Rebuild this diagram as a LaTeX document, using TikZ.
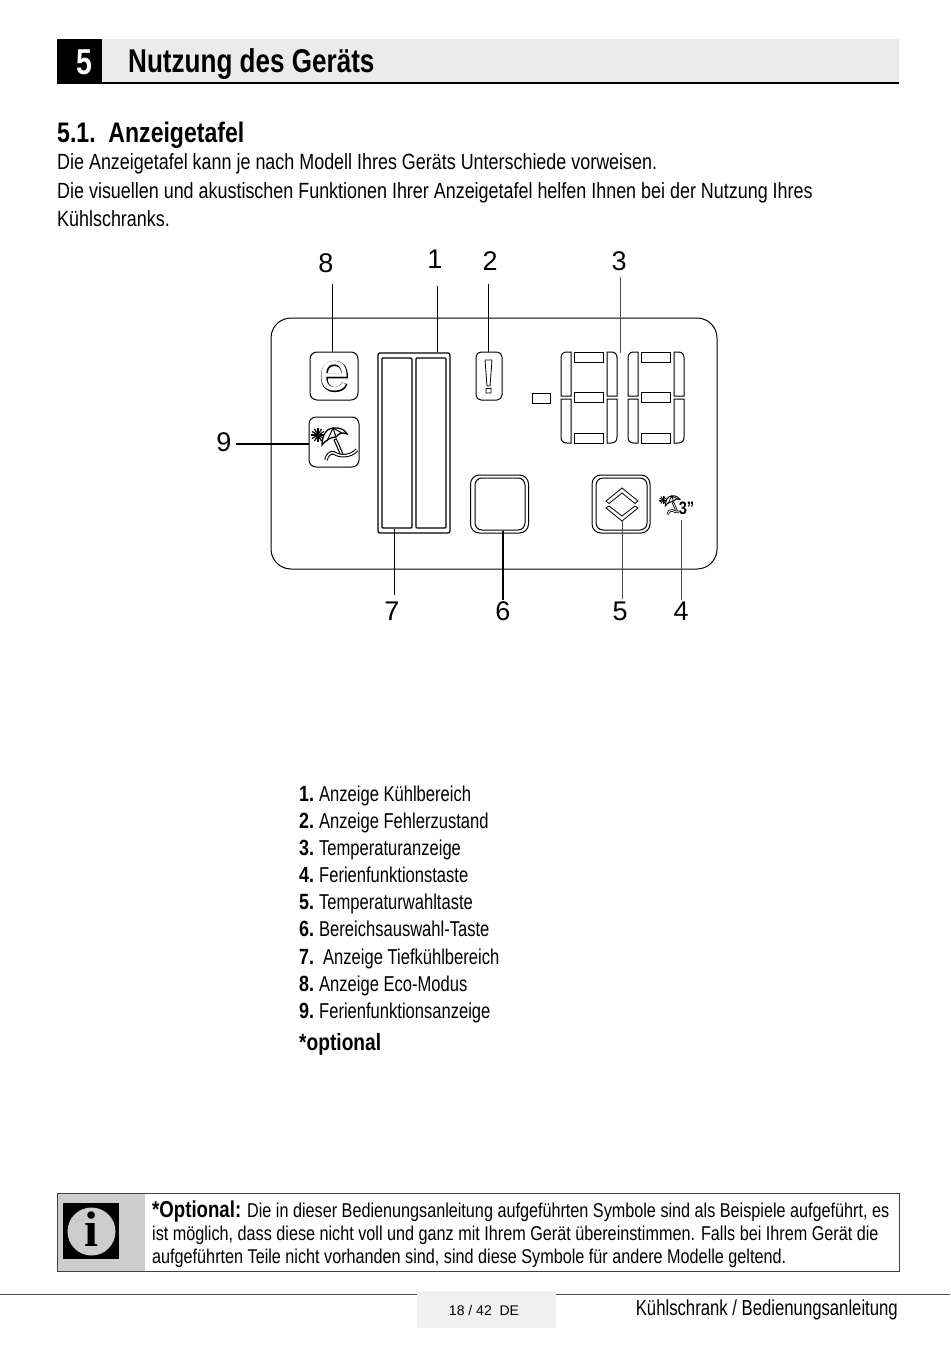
\documentclass[tikz,border=0pt]{standalone}
\usepackage{fontspec}
\setmainfont{Liberation Sans}[FakeStretch=0.815]
\newfontfamily\listface{Liberation Sans}[FakeStretch=0.77]
\newfontfamily\noteface{Liberation Sans}[FakeStretch=0.81]
\newfontfamily\titleface{Liberation Sans}[FakeStretch=0.79]
\newfontfamily\wideface{Liberation Sans}
\newfontfamily\heavyface{Liberation Sans}[FakeBold=3]
\newfontfamily\infoface{Liberation Serif}
\usetikzlibrary{calc,positioning}
\definecolor{headgray}{HTML}{EBEBEB}
\definecolor{infogray}{HTML}{CDCDCD}
\definecolor{footgray}{HTML}{F0F0F0}
\tikzset{
  body/.style={inner sep=0pt,anchor=base west,font=\fontsize{22}{25}\selectfont},
  listtext/.style={inner sep=0pt,anchor=base west,font=\listface\fontsize{21.5}{25}\selectfont},
  notetext/.style={inner sep=0pt,anchor=base west,font=\noteface\fontsize{20}{24}\selectfont},
  numlab/.style={inner sep=0pt,font=\wideface\fontsize{27}{30}\selectfont},
  lead/.style={line width=1pt},
  iconbox/.style={draw,line width=1pt,rounded corners=7pt,inner sep=0pt},
  seg/.style={draw,line width=1pt},
}
\newcommand{\beachicon}[3]{
\begin{scope}[shift={(#1,#2)},scale=#3]
\foreach \a in {0,30,...,330}{\draw[line width={(.3+.9*#3)*1pt}] (0,0)--++(\a:7);}
\draw[line width={(.5+.8*#3)*1pt},fill=white] (4,10) .. controls (4,0) and (9,-7) .. (15,-7) .. controls (22,-8) and (27,-5) .. (29,-1) .. controls (24,-3) and (21,-2) .. (18,2) .. controls (13,2) and (8,5) .. (4,10) -- cycle;
\draw[line width={(.5+.5*#3)*1pt}] (9,6)--(15,-7)--(18,2) (15,-7)--(24,-2);
\draw[line width={(.6+3*#3)*1pt}] (17,4)--(24,20);
\draw[line width={1.3*#3*1pt},white] (17.5,5)--(23.5,19);
\draw[line width={(.6+3*#3)*1pt}] (8,25) .. controls (9,20) and (12,17) .. (16,18) .. controls (22,22) and (32,22) .. (39,15);
\draw[line width={1.5*#3*1pt},white] (8,25) .. controls (9,20) and (12,17) .. (16,18) .. controls (22,22) and (32,22) .. (39,15);
\end{scope}}
\begin{document}
\begin{tikzpicture}[x=1pt,y=-1pt]
\useasboundingbox (0,0) rectangle (950,1348);
\fill[headgray] (57,39) rectangle (899,83);
\fill[black] (57,39) rectangle (102,83);
\draw[line width=2pt] (57,83)--(899,83);
\node[inner sep=0pt,text=white,font=\titleface\bfseries\fontsize{36}{38}\selectfont] (chapnum) at (84,62) {5};
\node[body,font=\titleface\bfseries\fontsize{33}{36}\selectfont] (chaptitle) at (128,73) {Nutzung des Geräts};
\node[body,font=\bfseries\fontsize{28.3}{30}\selectfont] (sectitle) at (57,143) {5.1.\ \ Anzeigetafel};
\node[body] (intro1) at (57,170) {Die Anzeigetafel kann je nach Modell Ihres Geräts Unterschiede vorweisen.};
\node[body] (intro2) at (57,199) {Die visuellen und akustischen Funktionen Ihrer Anzeigetafel helfen Ihnen bei der Nutzung Ihres};
\node[body] (intro3) at (57,227) {Kühlschranks.};
\draw[line width=1pt,rounded corners=20pt] (271,318) rectangle (717,569);
\node[iconbox,minimum width=48pt,minimum height=48pt] (eco) at (334,376) {};
\node[inner sep=0pt,font=\heavyface\fontsize{54}{56}\selectfont] (ecotext) at (334.5,376.5) {e};
\node[inner sep=0pt,text=white,font=\wideface\fontsize{54}{56}\selectfont] (ecofill) at (334.5,376.5) {e};
\node[iconbox,minimum width=50pt,minimum height=50pt] (holiday) at (334,442) {};
\beachicon{318}{435}{1}
\node[draw,line width=1.2pt,rounded corners=2pt,inner sep=0pt,minimum width=72pt,minimum height=180pt] (bars) at (414,443) {};
\node[draw,line width=1.2pt,rounded corners=1pt,inner sep=0pt,minimum width=30pt,minimum height=170pt] (barfreeze) at (397,443) {};
\node[draw,line width=1.2pt,rounded corners=1pt,inner sep=0pt,minimum width=30pt,minimum height=170pt] (barcool) at (431,443) {};
\node[iconbox,rounded corners=5pt,minimum width=26pt,minimum height=48pt] (alert) at (489,376) {};
\draw[line width=.8pt] (485,360)--(492,360)--(490,386)--(487,386)--cycle (486,388.5) rectangle (491,393);
\node[draw,line width=1pt,rounded corners=9pt,inner sep=0pt,minimum width=58pt,minimum height=58pt] (zonekey) at (499.5,504) {};
\node[draw,line width=1pt,rounded corners=7pt,inner sep=0pt,minimum width=50pt,minimum height=52pt] (zonein) at (500,504) {};
\node[draw,line width=1pt,rounded corners=9pt,inner sep=0pt,minimum width=58pt,minimum height=58pt] (tempkey) at (621,504) {};
\node[draw,line width=1pt,rounded corners=7pt,inner sep=0pt,minimum width=51pt,minimum height=52pt] (tempin) at (621.5,504) {};
\draw[line width=.8pt] (606,501)--(622,488)--(638,501)--(635,503.5)--(622,493)--(609,503.5)--cycle;
\draw[line width=.8pt] (606,508)--(622,521)--(638,508)--(635,506)--(622,516)--(609,506)--cycle;
\coordinate (arrowtip) at (622,521);
\draw[seg] (532,393) rectangle (550,403);
\foreach \dx in {0,67}{
\draw[seg] (574+\dx,352) rectangle (603+\dx,362);
\draw[seg] (574+\dx,392) rectangle (603+\dx,402);
\draw[seg] (574+\dx,433) rectangle (603+\dx,443);
\draw[seg] (571+\dx,396)--(561+\dx,396)--(561+\dx,358) .. controls (561+\dx,354) and (563+\dx,352) .. (567+\dx,352)--(571+\dx,352)--cycle;
\draw[seg] (571+\dx,399)--(561+\dx,399)--(561+\dx,437) .. controls (561+\dx,441) and (563+\dx,443) .. (567+\dx,443)--(571+\dx,443)--cycle;
\draw[seg] (607+\dx,396)--(617+\dx,396)--(617+\dx,358) .. controls (617+\dx,354) and (615+\dx,352) .. (611+\dx,352)--(607+\dx,352)--cycle;
\draw[seg] (607+\dx,399)--(617+\dx,399)--(617+\dx,437) .. controls (617+\dx,441) and (615+\dx,443) .. (611+\dx,443)--(607+\dx,443)--cycle;
}
\coordinate (digittop) at (620,353);
\beachicon{663}{500}{.58}
\node[inner sep=0pt,fill=white,font=\bfseries\fontsize{18}{18}\selectfont] (icon3) at (686.5,508) {3"};
\coordinate (icontail) at (681,520);
\node[numlab] (n1) at (435,259) {1};
\node[numlab] (n2) at (490,261) {2};
\node[numlab] (n3) at (619,261) {3};
\node[numlab] (n8) at (326,263) {8};
\node[numlab] (n9) at (224,442) {9};
\node[numlab] (n7) at (392,611) {7};
\node[numlab] (n6) at (503,611) {6};
\node[numlab] (n5) at (620,611) {5};
\node[numlab] (n4) at (681,611) {4};
\draw[lead] (437,286) coordinate (t1) -- (t1 |- bars.north);
\draw[lead,line width=1.4pt] (488.5,284) coordinate (t2) -- (t2 |- alert.north);
\draw[lead,black!70] (digittop |- n3.south)++(0,6) -- (digittop);
\draw[lead] (332,284) coordinate (t8) -- (t8 |- eco.north);
\draw[lead,line width=1.6pt] (236,444) coordinate (t9) -- (t9 -| holiday.west);
\draw[lead,line width=1.5pt] (394.5,595) coordinate (t7) -- (t7 |- barfreeze.south);
\draw[lead,line width=1.5pt] (503,600) coordinate (t6) -- (t6 |- zonein.south);
\draw[lead,black!70] (arrowtip |- n5.north)++(0,-2) -- (arrowtip);
\draw[lead,black!70] (icontail |- n4.north)++(0,-2) -- (icontail);
\foreach \y/\num/\lab/\tx in {801.5/1./Anzeige Kühlbereich/319,828.5/2./Anzeige Fehlerzustand/319,855.5/3./Temperaturanzeige/319,882.5/4./Ferienfunktionstaste/319,909.5/5./Temperaturwahltaste/319,936.5/6./Bereichsauswahl-Taste/319,964.5/7./Anzeige Tiefkühlbereich/323,991.5/8./Anzeige Eco-Modus/319,1018.5/9./Ferienfunktionsanzeige/319}{
\node[body,font=\bfseries\fontsize{22}{25}\selectfont] (num\y) at (299,\y) {\num};
\node[listtext] (item\y) at (\tx,\y) {\lab};
}
\node[body,font=\bfseries\fontsize{23.5}{25}\selectfont] (optlab) at (299,1050) {*optional};
\fill[infogray] (57,1193) rectangle (145,1271);
\draw[line width=.8pt,black!75] (57,1193) rectangle (899,1271);
\fill[black] (63,1203) rectangle (119,1259);
\node[circle,fill=infogray,inner sep=0pt,minimum size=48pt] (infodisc) at (91.5,1231.5) {};
\node[inner sep=0pt,font=\infoface\bfseries\fontsize{50}{50}\selectfont] (infoi) at (91.5,1229.5) {i};
\node[notetext] (note1) at (152,1217) {{\bfseries\fontsize{23}{24}\selectfont *Optional:} Die in dieser Bedienungsanleitung aufgeführten Symbole sind als Beispiele aufgeführt, es};
\node[notetext] (note2) at (152,1240) {ist möglich, dass diese nicht voll und ganz mit Ihrem Gerät übereinstimmen. Falls bei Ihrem Gerät die};
\node[notetext] (note3) at (152,1263) {aufgeführten Teile nicht vorhanden sind, sind diese Symbole für andere Modelle geltend.};
\fill[footgray] (417,1291) rectangle (556,1328);
\draw[line width=1pt,black!70] (0,1294.5)--(417,1294.5) (556,1294.5)--(950,1294.5);
\node[inner sep=0pt,font=\wideface\fontsize{14}{18}\selectfont] (pagenum) at (484,1310) {18 / 42\ \ DE};
\node[inner sep=0pt,anchor=base east,font=\listface\fontsize{21.7}{25}\selectfont] (doctitle) at (898,1315) {Kühlschrank / Bedienungsanleitung};
\end{tikzpicture}
\end{document}
